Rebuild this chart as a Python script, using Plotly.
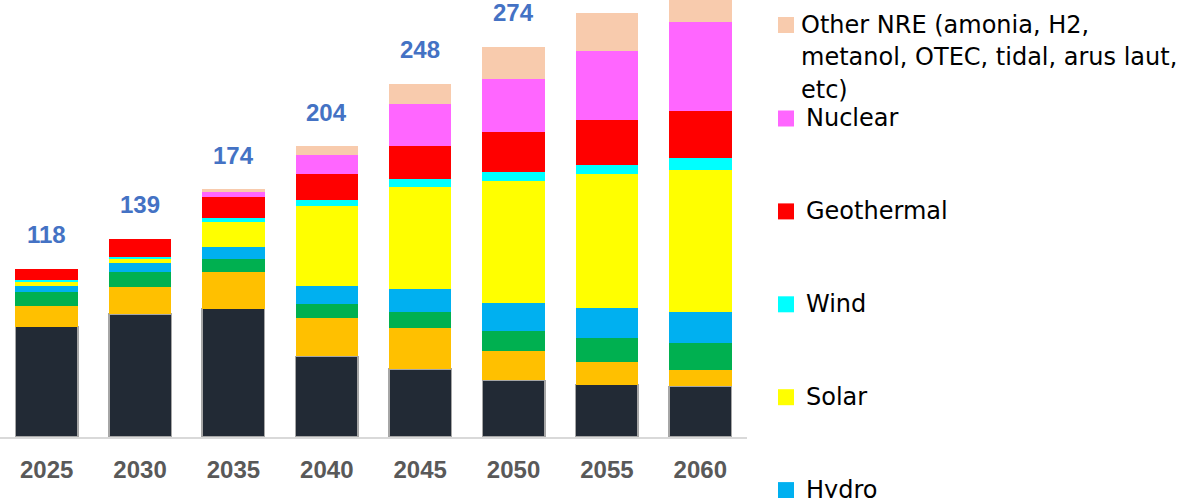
import plotly.graph_objects as go

# Installed capacity mix by source (GW), stacked from bottom to top
years = ["2025", "2030", "2035", "2040", "2045", "2050", "2055", "2060"]

coal = [77.5, 86.4, 90.1, 56.6, 47.7, 39.8, 36.7, 35.6]
gas = [14.5, 18.7, 25.7, 27.1, 28.5, 20.4, 15.9, 11.2]
bioenergy = [10.1, 11.0, 9.4, 9.6, 11.7, 14.3, 16.8, 19.4]
hydro = [3.7, 5.8, 8.4, 12.4, 15.7, 19.6, 21.3, 21.3]
solar = [3.5, 3.5, 17.5, 56.6, 71.6, 85.8, 93.6, 100.1]
wind = [0.7, 1.2, 2.8, 4.2, 6.1, 6.3, 6.8, 8.4]
geothermal = [8.0, 12.6, 14.7, 17.8, 22.9, 28.1, 31.6, 32.5]
nuclear = [0.0, 0.0, 3.5, 13.3, 29.2, 37.2, 48.4, 62.7]
other_nre = [0.0, 0.0, 1.9, 6.5, 14.5, 22.5, 26.4, 30.0]

series_names = [
    "Coal", "Gas", "Bioenergy", "Hydro", "Solar", "Wind",
    "Geothermal", "Nuclear",
    "Other NRE (amonia, H2,<br>metanol, OTEC, tidal, arus laut,<br>etc)",
]
series_values = [coal, gas, bioenergy, hydro, solar, wind,
                 geothermal, nuclear, other_nre]
series_colors = ["#222A35", "#FFC000", "#00B050", "#00B0F0", "#FFFF00",
                 "#00FFFF", "#FF0000", "#FF66FF", "#F8CBAD"]

totals = [sum(v[i] for v in series_values) for i in range(len(years))]

# Figure geometry (pixels)
W, H = 1191, 498
PLOT_W = 747          # plot area width from the left edge
BASE_Y = 437          # pixel row of the category axis
PX_PER_UNIT = 1.425
y_top = BASE_Y / PX_PER_UNIT

fig = go.Figure()
for name, vals, col in zip(series_names, series_values, series_colors):
    is_coal = name == "Coal"
    fig.add_trace(go.Bar(
        x=years, y=vals, name=name,
        marker=dict(color=col,
                    line=dict(color="#A6A6A6" if is_coal else col,
                              width=1.5 if is_coal else 0)),
        hoverinfo="x+y+name",
    ))

annotations = []
# Totals above each stack (category index positions)
for i, t in enumerate(totals):
    annotations.append(dict(
        x=i, y=t, xref="x", yref="y", text=f"<b>{round(t)}</b>",
        showarrow=False, yanchor="middle", yshift=34,
        font=dict(family="Liberation Sans, Arial, sans-serif", size=24,
                  color="#4472C4"),
    ))

# Hand-drawn legend on the right, top entry first
def px_x(px):
    return px / PLOT_W

def px_y(py):
    return (BASE_Y - py) / BASE_Y

shapes = []
legend_font = dict(family="DejaVu Sans, sans-serif", size=24, color="#000000")
first_center = 25.0
spacing = 92.9
entries = list(zip(series_names, series_colors))[::-1]
for k, (name, col) in enumerate(entries):
    if k == 0:
        cy = first_center
    else:
        cy = 118.5 + (k - 1) * spacing
    shapes.append(dict(
        type="rect", xref="paper", yref="paper",
        x0=px_x(778), x1=px_x(794), y0=px_y(cy - 8), y1=px_y(cy + 8),
        fillcolor=col, line=dict(width=0),
    ))
    lines = name.split("<br>")
    tx = 799 if len(lines) > 1 else 804
    for j, line in enumerate(lines):
        annotations.append(dict(
            x=px_x(tx), y=px_y(cy + j * 32.5), xref="paper", yref="paper",
            text=line, showarrow=False, xanchor="left", yanchor="middle",
            font=legend_font,
        ))

fig.update_layout(
    width=W, height=H,
    margin=dict(l=0, r=W - PLOT_W, t=0, b=H - BASE_Y, pad=0),
    barmode="stack", bargap=0.33,
    plot_bgcolor="#FFFFFF", paper_bgcolor="#FFFFFF",
    showlegend=False,
    annotations=annotations, shapes=shapes,
    xaxis=dict(
        type="category", range=[-0.5, len(years) - 0.5],
        showgrid=False, zeroline=False,
        showline=True, linecolor="#D9D9D9", linewidth=1.5,
        ticks="", ticklabelstandoff=10,
        tickfont=dict(family="Liberation Sans, Arial, sans-serif", size=24,
                      color="#595959", weight="bold"),
    ),
    yaxis=dict(range=[0, y_top], visible=False, showgrid=False,
               zeroline=False),
)

fig.write_html("out.html")
